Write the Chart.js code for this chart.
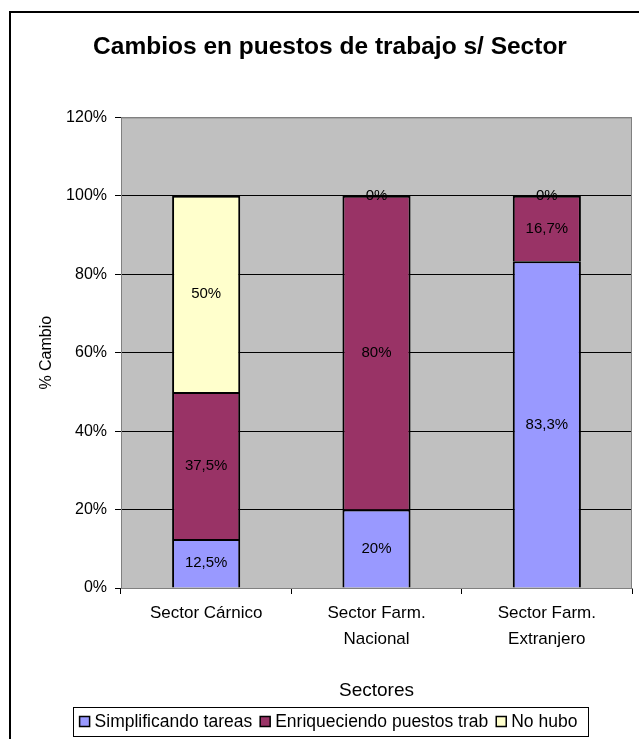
<!DOCTYPE html>
<html>
<head>
<meta charset="utf-8">
<script src="https://cdn.jsdelivr.net/npm/chart.js@4"></script>
<style>
  html, body { margin: 0; padding: 0; background: #fff; overflow: hidden; }
  #frame { position: absolute; left: 9px; top: 11px; width: 638px; height: 740px; border: 2px solid #000; }
  canvas { display: block; }
</style>
</head>
<body>
<div id="frame"><canvas id="sectorChart" width="638" height="740"></canvas></div>
<script>
const categories = ['Sector Cárnico', ['Sector Farm.', 'Nacional'], ['Sector Farm.', 'Extranjero']];
const simplificando = [12.5, 20, 83.3];
const enriqueciendo = [37.5, 80, 16.7];
const noHubo = [50, 0, 0];
const yTicks = [0, 20, 40, 60, 80, 100, 120];

const FONT = 'Arial, "Liberation Sans", sans-serif';

const fmt = v => String(v).replace('.', ',') + '%';

// gray plot background + frame
const plotBg = {
    id: 'plotBg',
    beforeDraw(chart) {
        const { ctx, chartArea: a } = chart;
        ctx.save();
        ctx.fillStyle = '#C0C0C0';
        ctx.fillRect(a.left, a.top, a.right - a.left, a.bottom - a.top);
        ctx.restore();
    },
    beforeDatasetsDraw(chart) {
        const { ctx, chartArea: a } = chart;
        ctx.save();
        ctx.strokeStyle = '#808080';
        ctx.lineWidth = 1;
        ctx.beginPath();
        ctx.moveTo(a.left, a.top + 0.5);
        ctx.lineTo(a.right - 0.5, a.top + 0.5);
        ctx.lineTo(a.right - 0.5, a.bottom);
        ctx.stroke();
        ctx.restore();
    }
};

// value labels in the middle of each segment
const segLabels = {
    id: 'segLabels',
    afterDatasetsDraw(chart) {
        const { ctx } = chart;
        ctx.save();
        ctx.font = '15px ' + FONT;
        ctx.fillStyle = '#000';
        ctx.textAlign = 'center';
        ctx.textBaseline = 'middle';
        chart.data.datasets.forEach((ds, i) => {
            chart.getDatasetMeta(i).data.forEach((bar, j) => {
                const p = bar.getProps(['x', 'y', 'base'], true);
                ctx.fillText(fmt(ds.data[j]), p.x, (p.y + p.base) / 2);
            });
        });
        ctx.restore();
    }
};

// boxed legend at the bottom
const boxLegend = {
    id: 'boxLegend',
    afterDraw(chart) {
        const { ctx } = chart;
        const ds = chart.data.datasets;
        ctx.save();
        ctx.font = '17.5px ' + FONT;
        const mark = 10, gapMT = 5, gapItem = 8, pad = 7;
        const widths = ds.map(d => mark + gapMT + ctx.measureText(d.label).width);
        const total = widths.reduce((s, w) => s + w, 0) + gapItem * (ds.length - 1) + pad * 2 + 3;
        const cx = chart.width / 2;
        const top = 694, h = 29;
        let x = cx - total / 2;
        ctx.fillStyle = '#fff';
        ctx.fillRect(x, top, total, h);
        ctx.strokeStyle = '#000';
        ctx.lineWidth = 1;
        ctx.strokeRect(Math.round(x) + 0.5, top + 0.5, Math.round(total), h);
        x += pad;
        const my = top + h / 2;
        ds.forEach((d, i) => {
            ctx.fillStyle = d.backgroundColor;
            ctx.fillRect(x, my - mark / 2, mark, mark);
            ctx.lineWidth = 1.5;
            ctx.strokeStyle = '#000';
            ctx.strokeRect(x, my - mark / 2, mark, mark);
            ctx.fillStyle = '#000';
            ctx.textAlign = 'left';
            ctx.textBaseline = 'middle';
            ctx.fillText(d.label, x + mark + gapMT, my + 1);
            x += widths[i] + gapItem;
        });
        ctx.restore();
    }
};

const data = {
    labels: categories,
    datasets: [
        { label: 'Simplificando tareas', data: simplificando, backgroundColor: '#9999FF' },
        { label: 'Enriqueciendo puestos trab', data: enriqueciendo, backgroundColor: '#993366' },
        { label: 'No hubo', data: noHubo, backgroundColor: '#FFFFCC' }
    ].map(d => Object.assign(d, {
        borderColor: '#000',
        borderWidth: 2,
        borderSkipped: 'start',
        categoryPercentage: 1,
        barPercentage: 0.4
    }))
};

const config = {
    type: 'bar',
    data: data,
    options: {
        responsive: false,
        animation: false,
        layout: { padding: { left: 17, right: 17, top: 0, bottom: 45 } },
        plugins: {
            legend: { display: false },
            tooltip: { enabled: false },
            title: {
                display: true,
                text: 'Cambios en puestos de trabajo s/ Sector',
                color: '#000',
                font: { family: FONT, size: 24.5, weight: 'bold' },
                padding: { top: 20, bottom: 55 }
            }
        },
        scales: {
            x: {
                stacked: true,
                afterFit: s => { s.height = 120; },
                grid: { offset: true, drawOnChartArea: false, tickLength: 6, tickColor: '#000' },
                border: { color: '#808080' },
                ticks: { color: '#000', font: { family: FONT, size: 17, lineHeight: 1.53 }, padding: 6, maxRotation: 0 },
                title: {
                    display: true, text: 'Sectores', color: '#000',
                    font: { family: FONT, size: 19 }, padding: { top: 0, bottom: 6 }
                }
            },
            y: {
                stacked: true,
                min: 0,
                max: 120,
                afterFit: s => { s.width = 93; },
                afterBuildTicks: s => { s.ticks = yTicks.map(v => ({ value: v })); },
                grid: {
                    color: c => (c.tick && (c.tick.value === 120 || c.tick.value === 0)) ? '#808080' : '#000',
                    tickColor: '#000',
                    tickLength: 6
                },
                border: { color: '#808080' },
                ticks: { color: '#000', font: { family: FONT, size: 16 }, padding: 8, callback: v => v + '%' },
                title: {
                    display: true, text: '% Cambio', color: '#000',
                    font: { family: FONT, size: 16 }, padding: { top: 9, bottom: 0 }
                }
            }
        }
    },
    plugins: [plotBg, segLabels, boxLegend]
};

new Chart(document.getElementById('sectorChart').getContext('2d'), config);
</script>
</body>
</html>
